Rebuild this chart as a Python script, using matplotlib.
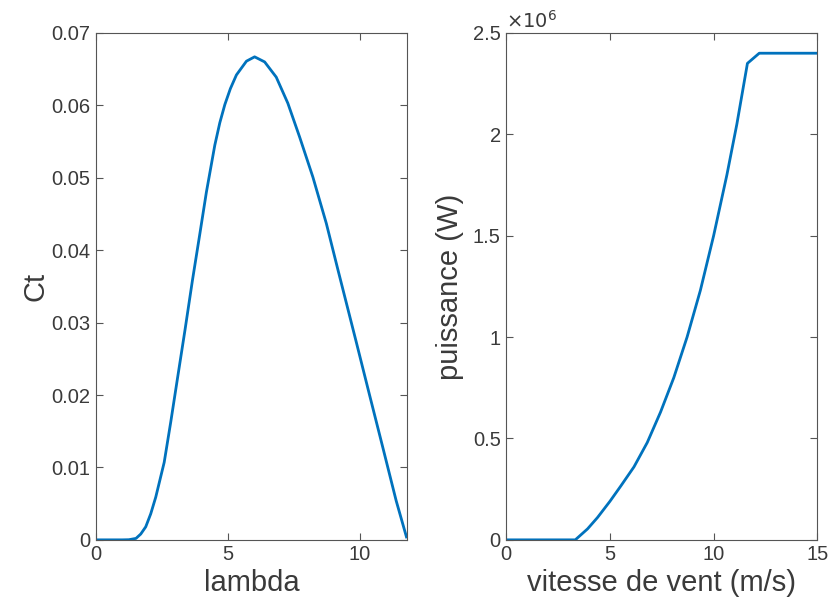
import matplotlib.pyplot as plt
from matplotlib.ticker import FuncFormatter

# Ct(lambda) curve, values
lam = [0, 0.5, 1.0, 1.25, 1.52, 1.70, 1.89, 2.08, 2.27, 2.59, 2.84, 3.09,
       3.38, 3.66, 3.94, 4.19, 4.51, 4.70, 4.89, 5.10, 5.33, 5.71, 6.02,
       6.40, 6.84, 7.28, 7.73, 8.23, 8.74, 9.18, 9.87, 10.38, 10.88, 11.39,
       11.78]
ct = [0, 0, 0, 0.00002, 0.0002, 0.0008, 0.0018, 0.0036, 0.0059, 0.0107,
      0.0163, 0.0222, 0.029, 0.0358, 0.0422, 0.048, 0.0545, 0.0576, 0.0601,
      0.0623, 0.0642, 0.0661, 0.0667, 0.066, 0.0639, 0.0603, 0.0556, 0.0501,
      0.0437, 0.0373, 0.0274, 0.0200, 0.0128, 0.0054, 0.0004]

# power curve P(v)
vent = [0, 1, 2, 3, 3.33, 3.92, 4.4, 5.0, 5.52, 6.16, 6.8, 7.44, 8.08, 8.72,
        9.36, 10.0, 10.64, 11.12, 11.63, 12.2, 13, 14, 15]
puissance = [0, 0, 0, 0, 0, 0.054e6, 0.11e6, 0.19e6, 0.265e6, 0.36e6, 0.48e6,
             0.63e6, 0.80e6, 1.0e6, 1.23e6, 1.50e6, 1.80e6, 2.05e6, 2.35e6,
             2.40e6, 2.40e6, 2.40e6, 2.40e6]

plt.rcParams['font.family'] = ['Liberation Sans', 'DejaVu Sans']
blue = '#0072BD'
txt = '#3a3a3a'
edge = '#555555'

fig = plt.figure(figsize=(8.34, 6.10), dpi=100)
ax1 = fig.add_axes([0.115, 0.115, 0.373, 0.831])
ax2 = fig.add_axes([0.607, 0.115, 0.373, 0.831])

ax1.plot(lam, ct, color=blue, linewidth=2, solid_joinstyle='round')
ax1.set_xlim(0, 11.8)
ax1.set_ylim(0, 0.07)
ax1.set_xticks([0, 5, 10])
ax1.set_yticks([0, 0.01, 0.02, 0.03, 0.04, 0.05, 0.06, 0.07])
ax1.yaxis.set_major_formatter(FuncFormatter(lambda v, p: '%g' % v))
ax1.set_xlabel('lambda', fontsize=21, color=txt, labelpad=3)
ax1.set_ylabel('Ct', fontsize=21, color=txt, labelpad=1)

ax2.plot(vent, puissance, color=blue, linewidth=2, solid_joinstyle='round')
ax2.set_xlim(0, 15)
ax2.set_ylim(0, 2.5e6)
ax2.set_xticks([0, 5, 10, 15])
ax2.set_yticks([0, 0.5e6, 1e6, 1.5e6, 2e6, 2.5e6])
ax2.yaxis.set_major_formatter(FuncFormatter(lambda v, p: '%g' % (v / 1e6)))
ax2.text(0, 1.003, r'$\times10^{6}$', transform=ax2.transAxes, ha='left',
         va='bottom', fontsize=14, color=txt)
ax2.set_xlabel('vitesse de vent (m/s)', fontsize=21, color=txt, labelpad=3)
ax2.set_ylabel('puissance (W)', fontsize=21, color=txt, labelpad=6)

for ax in (ax1, ax2):
    ax.tick_params(direction='in', top=True, right=True, length=5, width=0.8,
                   colors=edge, labelcolor=txt, labelsize=14.5, pad=4)
    for s in ax.spines.values():
        s.set_color(edge)
        s.set_linewidth(0.8)

fig.savefig('out.png', dpi=100)
